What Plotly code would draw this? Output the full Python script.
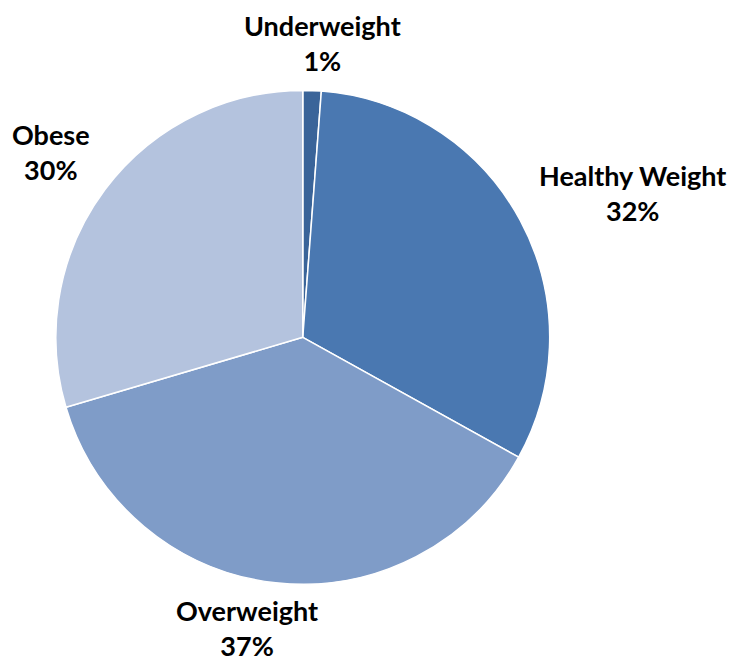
import plotly.graph_objects as go

categories = ["Underweight", "Healthy Weight", "Overweight", "Obese"]
values = [1.2, 31.9, 37.4, 29.6]
colors = ["#3A6499", "#4A78B1", "#7F9CC8", "#B4C3DE"]

# label anchor positions (paper coordinates)
label_x = [0.427, 0.849, 0.325, 0.058]
label_y = [0.947, 0.721, 0.067, 0.783]

total = sum(values)

fig = go.Figure(go.Pie(
    labels=categories,
    values=values,
    sort=False,
    direction="clockwise",
    rotation=0,
    marker=dict(colors=colors, line=dict(color="white", width=1.5)),
    textinfo="none",
    domain=dict(x=[0.065, 0.736], y=[0.132, 0.876]),
    showlegend=False,
    hoverinfo="label+percent",
))

for cat, v, lx, ly in zip(categories, values, label_x, label_y):
    pct = round(100 * v / total)
    fig.add_annotation(
        x=lx, y=ly, xref="paper", yref="paper",
        text=f"<b>{cat}<br>{pct}%</b>",
        showarrow=False, xanchor="center", yanchor="middle",
        font=dict(family="Lato", size=27, color="black"),
        align="center",
    )

fig.update_layout(
    width=736, height=664,
    margin=dict(l=0, r=0, t=0, b=0),
    paper_bgcolor="white",
    plot_bgcolor="white",
)
fig.write_html("out.html")
